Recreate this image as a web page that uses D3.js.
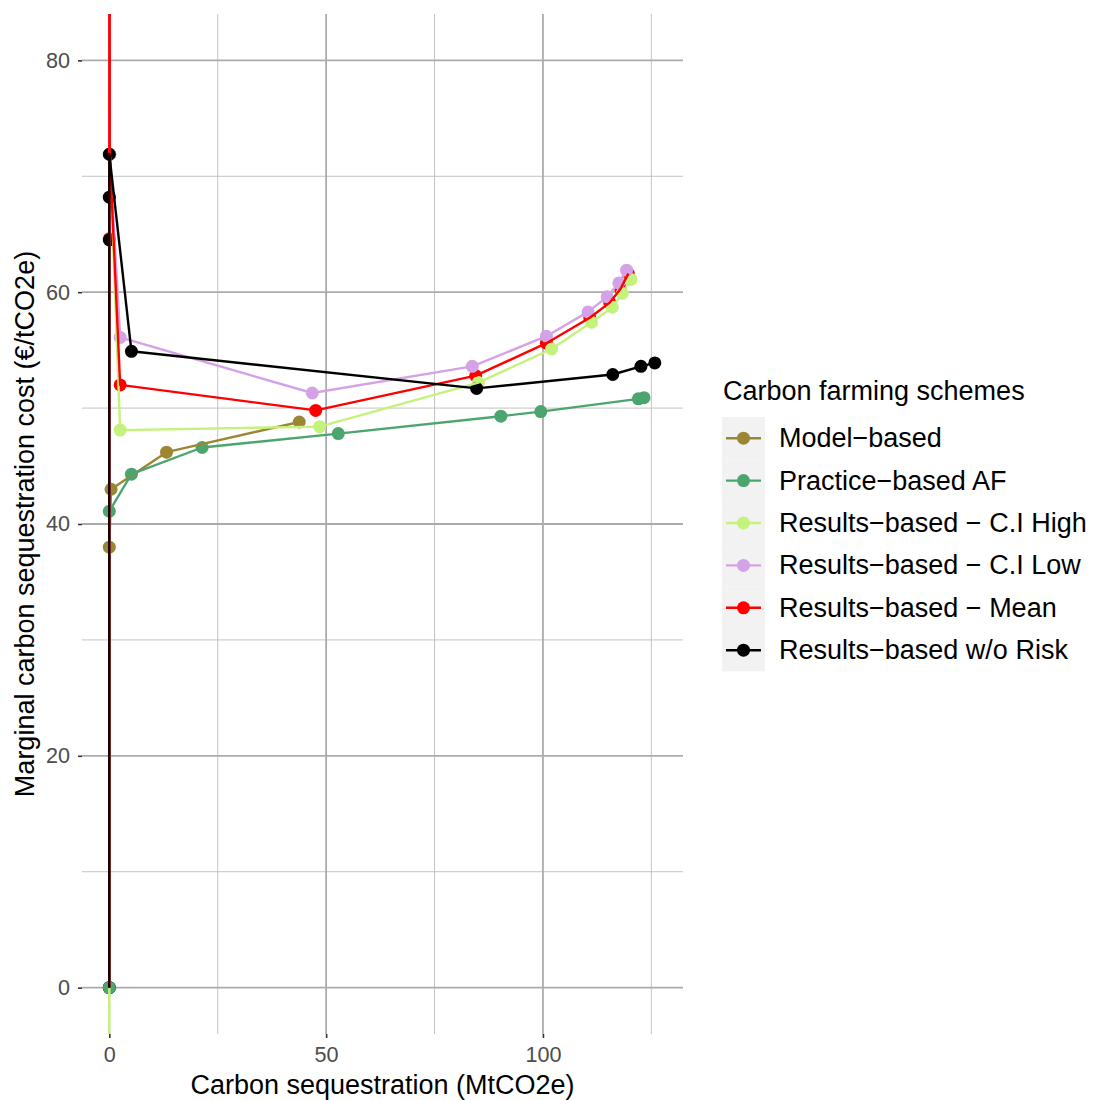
<!DOCTYPE html>
<html>
<head>
<meta charset="utf-8">
<script src="https://cdn.jsdelivr.net/npm/d3@7"></script>
<style>
  body { margin: 0; background: #fff; }
  text { font-family: "Liberation Sans", Arial, sans-serif; }
</style>
</head>
<body>
<svg id="chart" width="1094" height="1100"></svg>
<script>
// ---------- DATA ----------
const seriesNames = [
  "Model\u2212based",
  "Practice\u2212based AF",
  "Results\u2212based \u2212 C.I High",
  "Results\u2212based \u2212 C.I Low",
  "Results\u2212based \u2212 Mean",
  "Results\u2212based w/o Risk"
];
const seriesColors = ["#9b8733", "#4ca56e", "#c4f27a", "#d4a2e6", "#ff0000", "#000000"];

const modelX = [0, 0, 0.4, 13.2, 43.8];
const modelY = [0, 38.0, 43.0, 46.2, 48.8];

const practiceX = [0, 0, 5.1, 21.4, 52.8, 90.3, 99.5, 122.0, 123.3];
const practiceY = [0, 41.1, 44.3, 46.6, 47.8, 49.3, 49.7, 50.8, 50.9];

const ciHighX = [0, 0, 0, 0.1, 2.5, 48.5, 85.1, 102.0, 111.2, 116.0, 118.3, 120.3];
const ciHighY = [-40, 0, 200, 71.9, 48.1, 48.4, 52.2, 55.1, 57.4, 58.7, 59.9, 61.1];

const ciLowX = [0, 0, 0.1, 2.5, 46.8, 83.7, 100.8, 110.4, 114.8, 117.5, 119.3];
const ciLowY = [0, 200, 71.9, 56.1, 51.3, 53.6, 56.2, 58.3, 59.6, 60.8, 61.9];

const meanX = [0, 0, 0, 0.1, 2.5, 47.6, 84.5, 100.8, 110.8, 115.4, 117.9, 119.7];
const meanY = [0, 64.6, 200, 71.9, 52.0, 49.8, 52.8, 55.6, 57.8, 59.1, 60.3, 61.6];

const noRiskX = [0, 0, 0, 0, 5.1, 84.7, 116.1, 122.6, 125.8];
const noRiskY = [0, 64.5, 68.2, 71.9, 54.9, 51.7, 52.9, 53.6, 53.9];

const xTicks = [0, 50, 100];
const xMinor = [25, 75, 125];
const yTicks = [0, 20, 40, 60, 80];
const yMinor = [10, 30, 50, 70];

const xTitle = "Carbon sequestration (MtCO2e)";
const yTitle = "Marginal carbon sequestration cost (\u20AC/tCO2e)";
const legendTitle = "Carbon farming schemes";

// ---------- BUILD ----------
const xs = [modelX, practiceX, ciHighX, ciLowX, meanX, noRiskX];
const ys = [modelY, practiceY, ciHighY, ciLowY, meanY, noRiskY];
const series = seriesNames.map((name, i) => ({
  name, color: seriesColors[i],
  pts: xs[i].map((x, j) => ({ x, y: ys[i][j] }))
}));

const svg = d3.select("#chart");
const panel = { left: 82, right: 683, top: 14, bottom: 1034 };

const x = d3.scaleLinear().domain([-6.3, 132.3]).range([panel.left, panel.right]);
const y = d3.scaleLinear().domain([-4, 84]).range([panel.bottom, panel.top]);

svg.append("defs").append("clipPath").attr("id", "clip")
  .append("rect").attr("x", panel.left).attr("y", panel.top)
  .attr("width", panel.right - panel.left).attr("height", panel.bottom - panel.top);

// grid
const grid = svg.append("g");
grid.selectAll(".ymin").data(yMinor).join("line")
  .attr("x1", panel.left).attr("x2", panel.right)
  .attr("y1", d => y(d)).attr("y2", d => y(d))
  .attr("stroke", "#bdbdbd").attr("stroke-width", 0.9);
grid.selectAll(".xmin").data(xMinor).join("line")
  .attr("y1", panel.top).attr("y2", panel.bottom)
  .attr("x1", d => x(d)).attr("x2", d => x(d))
  .attr("stroke", "#bdbdbd").attr("stroke-width", 0.9);
grid.selectAll(".ymaj").data(yTicks).join("line")
  .attr("x1", panel.left).attr("x2", panel.right)
  .attr("y1", d => y(d)).attr("y2", d => y(d))
  .attr("stroke", "#ababab").attr("stroke-width", 1.8);
grid.selectAll(".xmaj").data(xTicks).join("line")
  .attr("y1", panel.top).attr("y2", panel.bottom)
  .attr("x1", d => x(d)).attr("x2", d => x(d))
  .attr("stroke", "#ababab").attr("stroke-width", 1.8);

// axes
const xAxis = svg.append("g").attr("transform", `translate(0,${panel.bottom})`)
  .call(d3.axisBottom(x).tickValues(xTicks).tickSize(4).tickPadding(9).tickFormat(d3.format("d")));
const yAxis = svg.append("g").attr("transform", `translate(${panel.left},0)`)
  .call(d3.axisLeft(y).tickValues(yTicks).tickSize(4).tickPadding(8).tickFormat(d3.format("d")));
[xAxis, yAxis].forEach(a => {
  a.select(".domain").remove();
  a.selectAll(".tick line").attr("stroke", "#333").attr("stroke-width", 1.6);
  a.selectAll(".tick text").attr("fill", "#4d4d4d").style("font-size", "21.6px")
    .style("font-family", "'Liberation Sans', Arial, sans-serif");
});

// data layer: points first, lines on top
const dataLayer = svg.append("g").attr("clip-path", "url(#clip)");
const pointOrder = [4, 2, 3, 0, 5, 1];
pointOrder.forEach(i => {
  const s = series[i];
  dataLayer.append("g").selectAll("circle").data(s.pts).join("circle")
    .attr("cx", d => x(d.x)).attr("cy", d => y(d.y)).attr("r", 6.5)
    .attr("fill", s.color);
});
const line = d3.line().x(d => x(d.x)).y(d => y(d.y));
series.forEach(s => {
  dataLayer.append("path").attr("d", line(s.pts))
    .attr("fill", "none").attr("stroke", s.color).attr("stroke-width", 2.4)
    .attr("stroke-linejoin", "round");
});

// axis titles
svg.append("text").attr("x", (panel.left + panel.right) / 2).attr("y", 1094)
  .attr("text-anchor", "middle").attr("fill", "#000").style("font-size", "27px").text(xTitle);
svg.append("text").attr("transform", `translate(34,${(panel.top + panel.bottom) / 2}) rotate(-90)`)
  .attr("text-anchor", "middle").attr("fill", "#000").style("font-size", "27px").text(yTitle);

// legend
const lg = svg.append("g");
lg.append("text").attr("x", 723).attr("y", 400).attr("fill", "#000")
  .style("font-size", "27px").text(legendTitle);
const keyTop = 417, keyH = 42.4;
series.forEach((s, i) => {
  const cy = keyTop + keyH * i + keyH / 2;
  lg.append("rect").attr("x", 722).attr("y", keyTop + keyH * i).attr("width", 43).attr("height", keyH)
    .attr("fill", "#f2f2f2");
  lg.append("line").attr("x1", 726).attr("x2", 761).attr("y1", cy).attr("y2", cy)
    .attr("stroke", s.color).attr("stroke-width", 2.4);
  lg.append("circle").attr("cx", 743.5).attr("cy", cy).attr("r", 6.5).attr("fill", s.color);
  lg.append("text").attr("x", 779).attr("y", cy + 9).attr("fill", "#000")
    .style("font-size", "27px").text(s.name);
});
</script>
</body>
</html>
